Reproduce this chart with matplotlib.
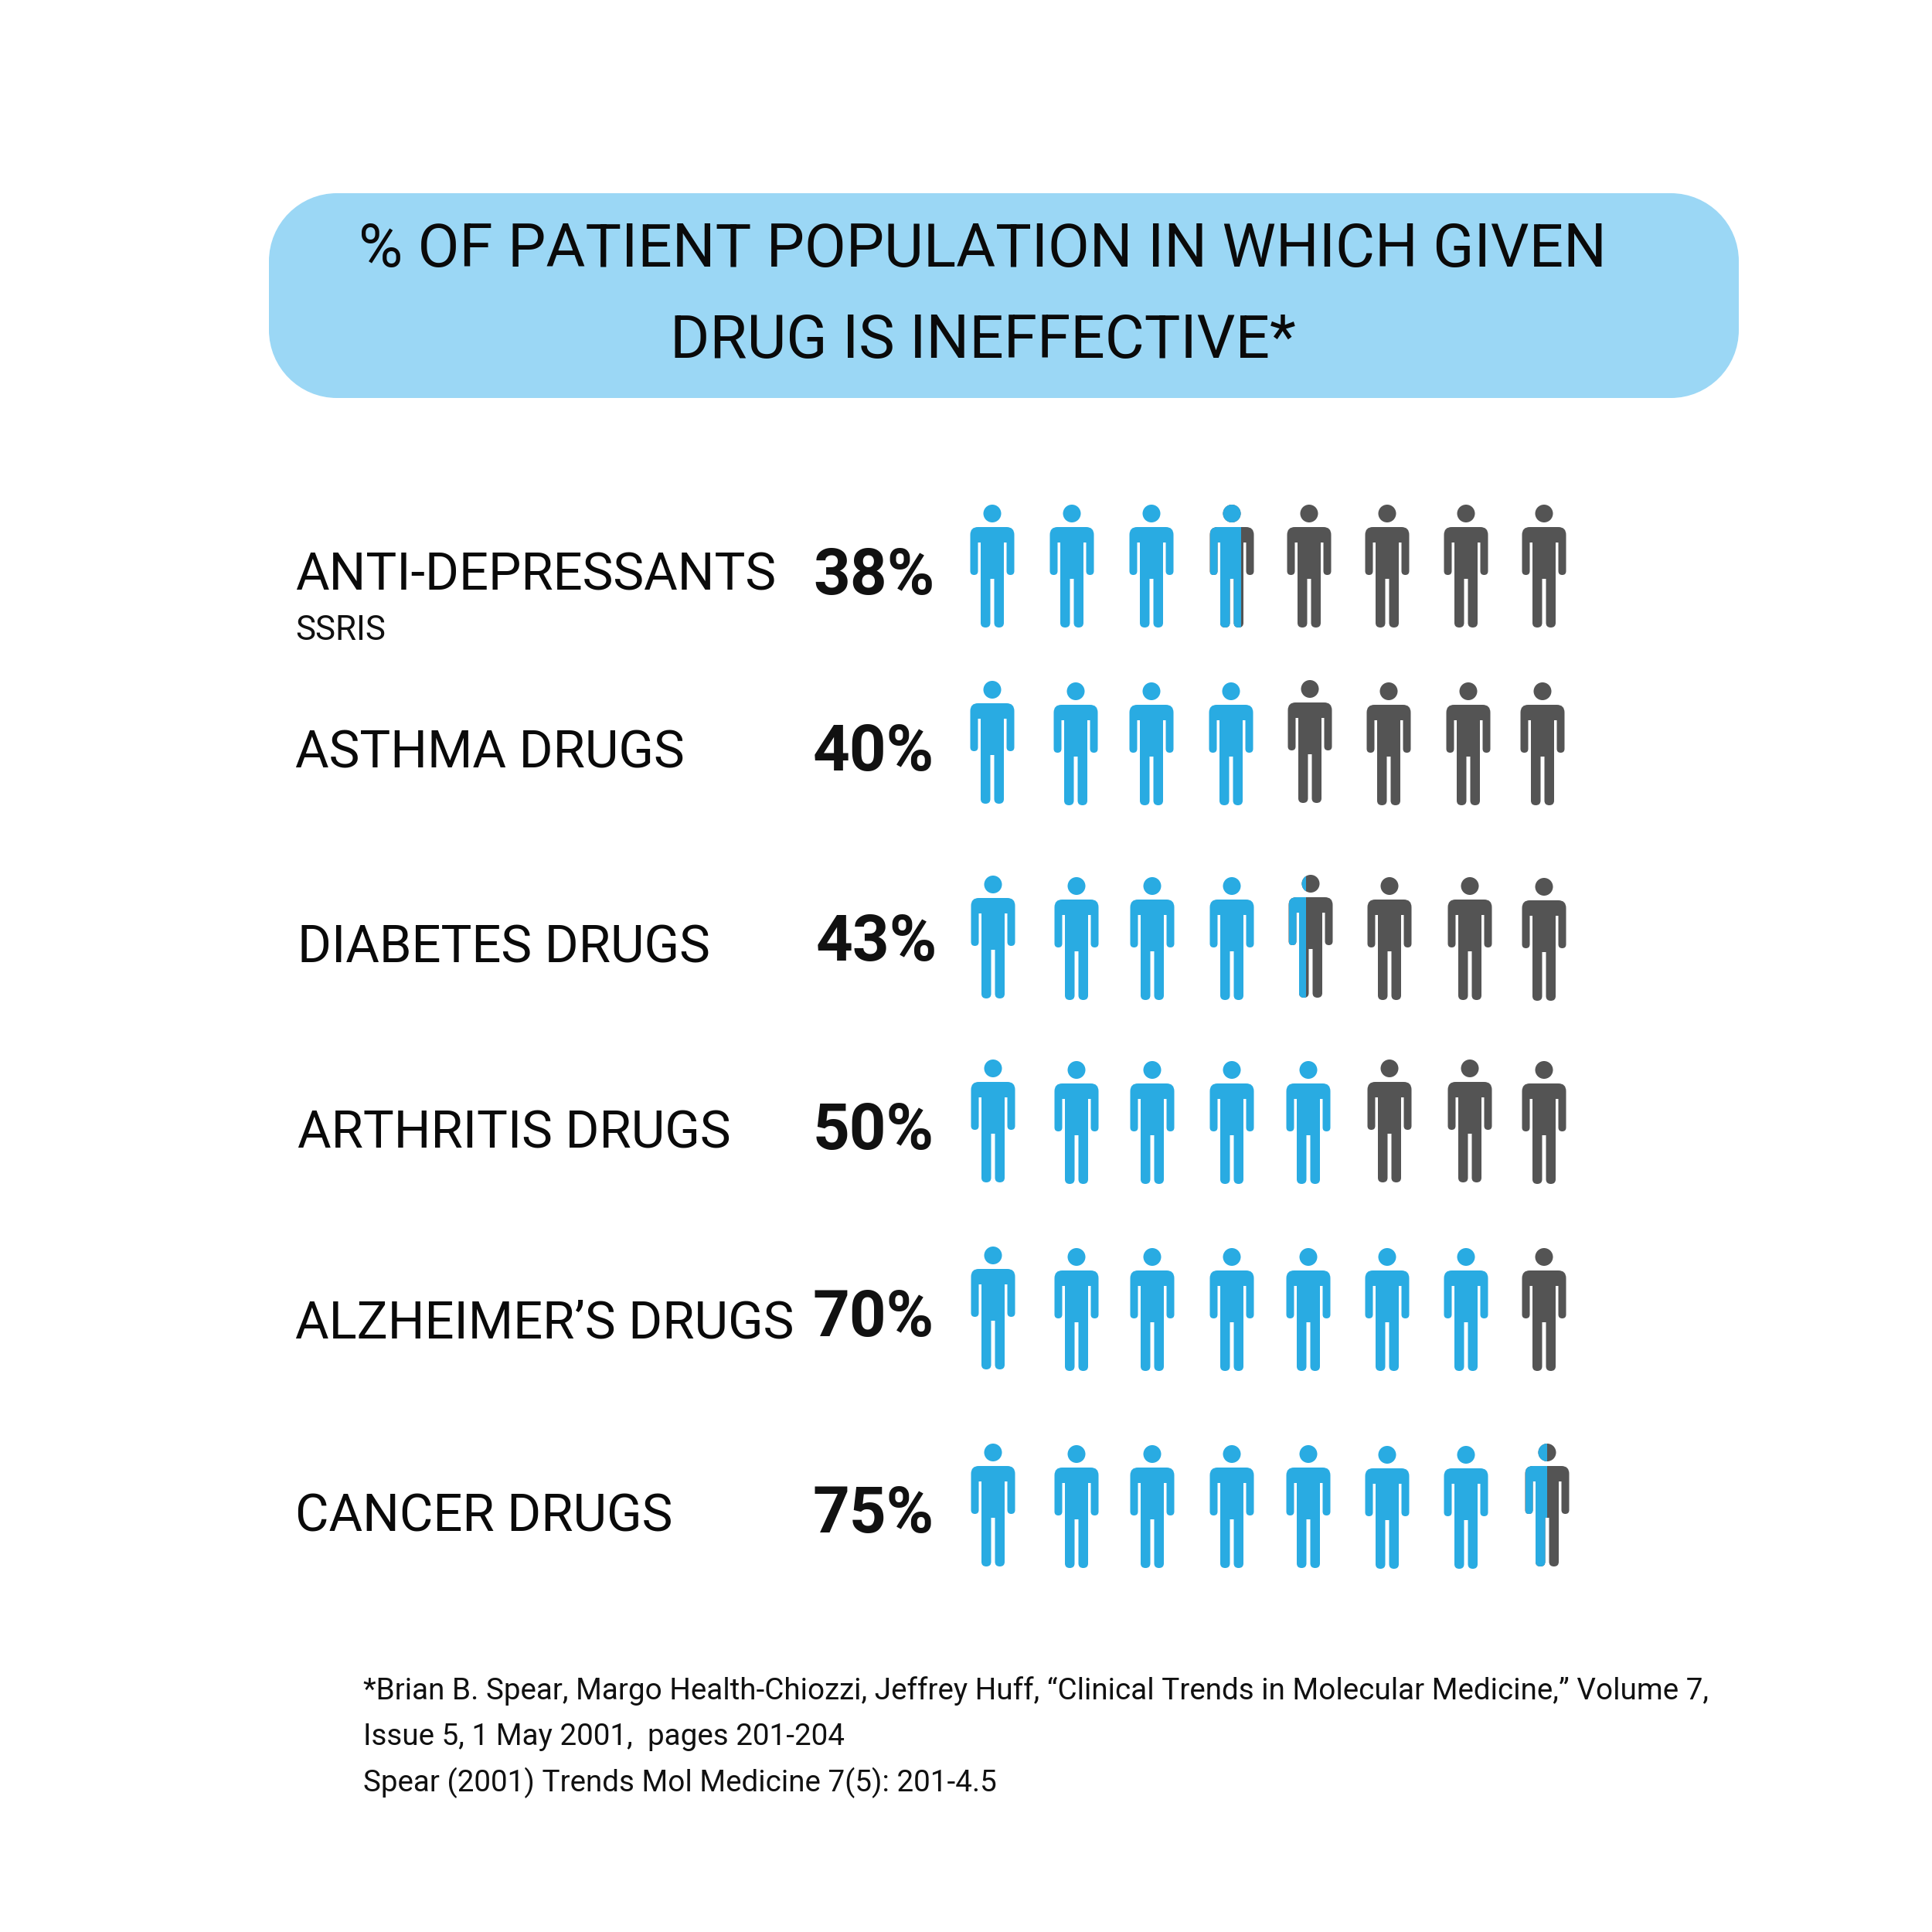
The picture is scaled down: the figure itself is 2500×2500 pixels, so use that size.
import numpy as np
import matplotlib
matplotlib.use("Agg")
import matplotlib.pyplot as plt
from matplotlib.path import Path
from matplotlib.patches import PathPatch, Rectangle
from matplotlib.transforms import Affine2D

categories = ["ANTI-DEPRESSANTS", "ASTHMA DRUGS", "DIABETES DRUGS",
              "ARTHRITIS DRUGS", "ALZHEIMER’S DRUGS", "CANCER DRUGS"]
percent_labels = ["38%", "40%", "43%", "50%", "70%", "75%"]
blue_icons = [3.71, 4.0, 4.39, 5.0, 7.0, 7.5]   # icons filled blue
n_icons = 8

title_lines = ["% OF PATIENT POPULATION IN WHICH GIVEN", "DRUG IS INEFFECTIVE*"]
footnote = ["*Brian B. Spear, Margo Health-Chiozzi, Jeffrey Huff, “Clinical Trends in Molecular Medicine,” Volume 7,",
            "Issue 5, 1 May 2001,  pages 201-204",
            "Spear (2001) Trends Mol Medicine 7(5): 201-4.5"]

# layout (pixels of the 2500 canvas)
icon_x = [[1284, 1387, 1490, 1594, 1694, 1795, 1897, 1998],
          [1284, 1392, 1490, 1593, 1695, 1797, 1900, 1996],
          [1285, 1393, 1491, 1594, 1696, 1798, 1902, 1998],
          [1285, 1393, 1491, 1594, 1693, 1798, 1902, 1998],
          [1285, 1393, 1491, 1594, 1693, 1795, 1897, 1998],
          [1285, 1393, 1491, 1594, 1693, 1795, 1897, 2002]]
icon_top = [[653]*8,
            [881, 883, 883, 883, 880, 883, 883, 883],
            [1133, 1135, 1135, 1135, 1132, 1135, 1135, 1136],
            [1371, 1373, 1373, 1373, 1373, 1371, 1371, 1373],
            [1613, 1615, 1615, 1615, 1615, 1615, 1615, 1615],
            [1868, 1870, 1870, 1870, 1870, 1871, 1871, 1868]]
label_xy = [(382, 746), (382, 975), (385, 1227), (385, 1468), (382, 1713), (382, 1963)]
pct_xy = [(1052, 747), (1052, 975), (1056, 1220), (1052, 1464), (1052, 1706), (1052, 1961)]

BLUE, DARK = "#29ABE2", "#545454"
FONT = "Roboto"


def person_path():
    """Pictogram in px, centred on x=0, top of head at y=0 (y grows downward)."""
    L, C = Path.LINETO, Path.CURVE3
    r, ao, ai, tw = 10, 28.5, 18.5, 15
    half = [((0, 29), Path.MOVETO), ((ao - r, 29), L), ((ao, 29), C), ((ao, 29 + r), C), ((ao, 86), L),
            ((ao, 91), C), ((ao - 5, 91), C), ((ai, 91), C), ((ai, 86), C),
            ((ai, 49), L), ((tw, 49), L), ((tw, 153), L),
            ((tw, 159), C), ((8.75, 159), C), ((2.5, 159), C), ((2.5, 153), C), ((2.5, 96), L)]
    verts = [v for v, _ in half]
    codes = [c for _, c in half]
    mirror = [(-x, y) for x, y in verts[::-1]]
    body = Path(verts + mirror + [(0, 29)], codes + [L] + codes[1:][::-1] + [Path.CLOSEPOLY])
    return Path.make_compound_path(body, Path.circle((0, 11.5), 11.5))


def round_box(x0, y0, x1, y1, r):
    k = 0.5523 * r
    C, L = Path.CURVE4, Path.LINETO
    v = [(x0 + r, y0), (x1 - r, y0), (x1 - r + k, y0), (x1, y0 + r - k), (x1, y0 + r),
         (x1, y1 - r), (x1, y1 - r + k), (x1 - r + k, y1), (x1 - r, y1),
         (x0 + r, y1), (x0 + r - k, y1), (x0, y1 - r + k), (x0, y1 - r),
         (x0, y0 + r), (x0, y0 + r - k), (x0 + r - k, y0), (x0 + r, y0), (x0 + r, y0)]
    c = [Path.MOVETO, L, C, C, C, L, C, C, C, L, C, C, C, L, C, C, C, Path.CLOSEPOLY]
    return Path(v, c)


PERSON = person_path()

fig = plt.figure(figsize=(10, 10), dpi=250, facecolor="white")
ax = fig.add_axes([0, 0, 1, 1])
ax.set_xlim(0, 2500)
ax.set_ylim(2500, 0)
ax.axis("off")

ax.add_patch(PathPatch(round_box(348, 250, 2250, 515, 88), fc="#9BD7F5", ec="none"))
ax.text(1272, 324, title_lines[0], family=FONT, fontsize=22.55, ha="center", va="center", color="#0a0a0a")
ax.text(1272, 442, title_lines[1], family=FONT, fontsize=22.55, ha="center", va="center", color="#0a0a0a")

for i, cat in enumerate(categories):
    ax.text(*label_xy[i], cat, family=FONT, fontsize=19.3, ha="left", va="center", color="#0a0a0a")
    ax.text(*pct_xy[i], percent_labels[i], family=FONT, fontsize=24, weight="bold",
            ha="left", va="center", color="#111111")
    for j in range(n_icons):
        x0, y0 = icon_x[i][j], icon_top[i][j]
        path = PERSON.transformed(Affine2D().translate(x0, y0))
        fill = np.clip(blue_icons[i] - j, 0, 1)
        if fill < 1:
            ax.add_patch(PathPatch(path, fc=DARK, ec="none"))
        if fill > 0:
            p = PathPatch(path, fc=BLUE, ec="none")
            ax.add_patch(p)
            if fill < 1:
                p.set_clip_path(Rectangle((x0 - 28.5, y0 - 2), 57 * fill, 165, transform=ax.transData))

ax.text(382, 816, "SSRIS", family=FONT, fontsize=12.6, ha="left", va="center", color="#111111")

for line, y in zip(footnote, [2188, 2248, 2307]):
    ax.text(470, y, line, family=FONT, fontsize=11.15, ha="left", va="center", color="#111111")

fig.savefig("out.png", dpi=250)
